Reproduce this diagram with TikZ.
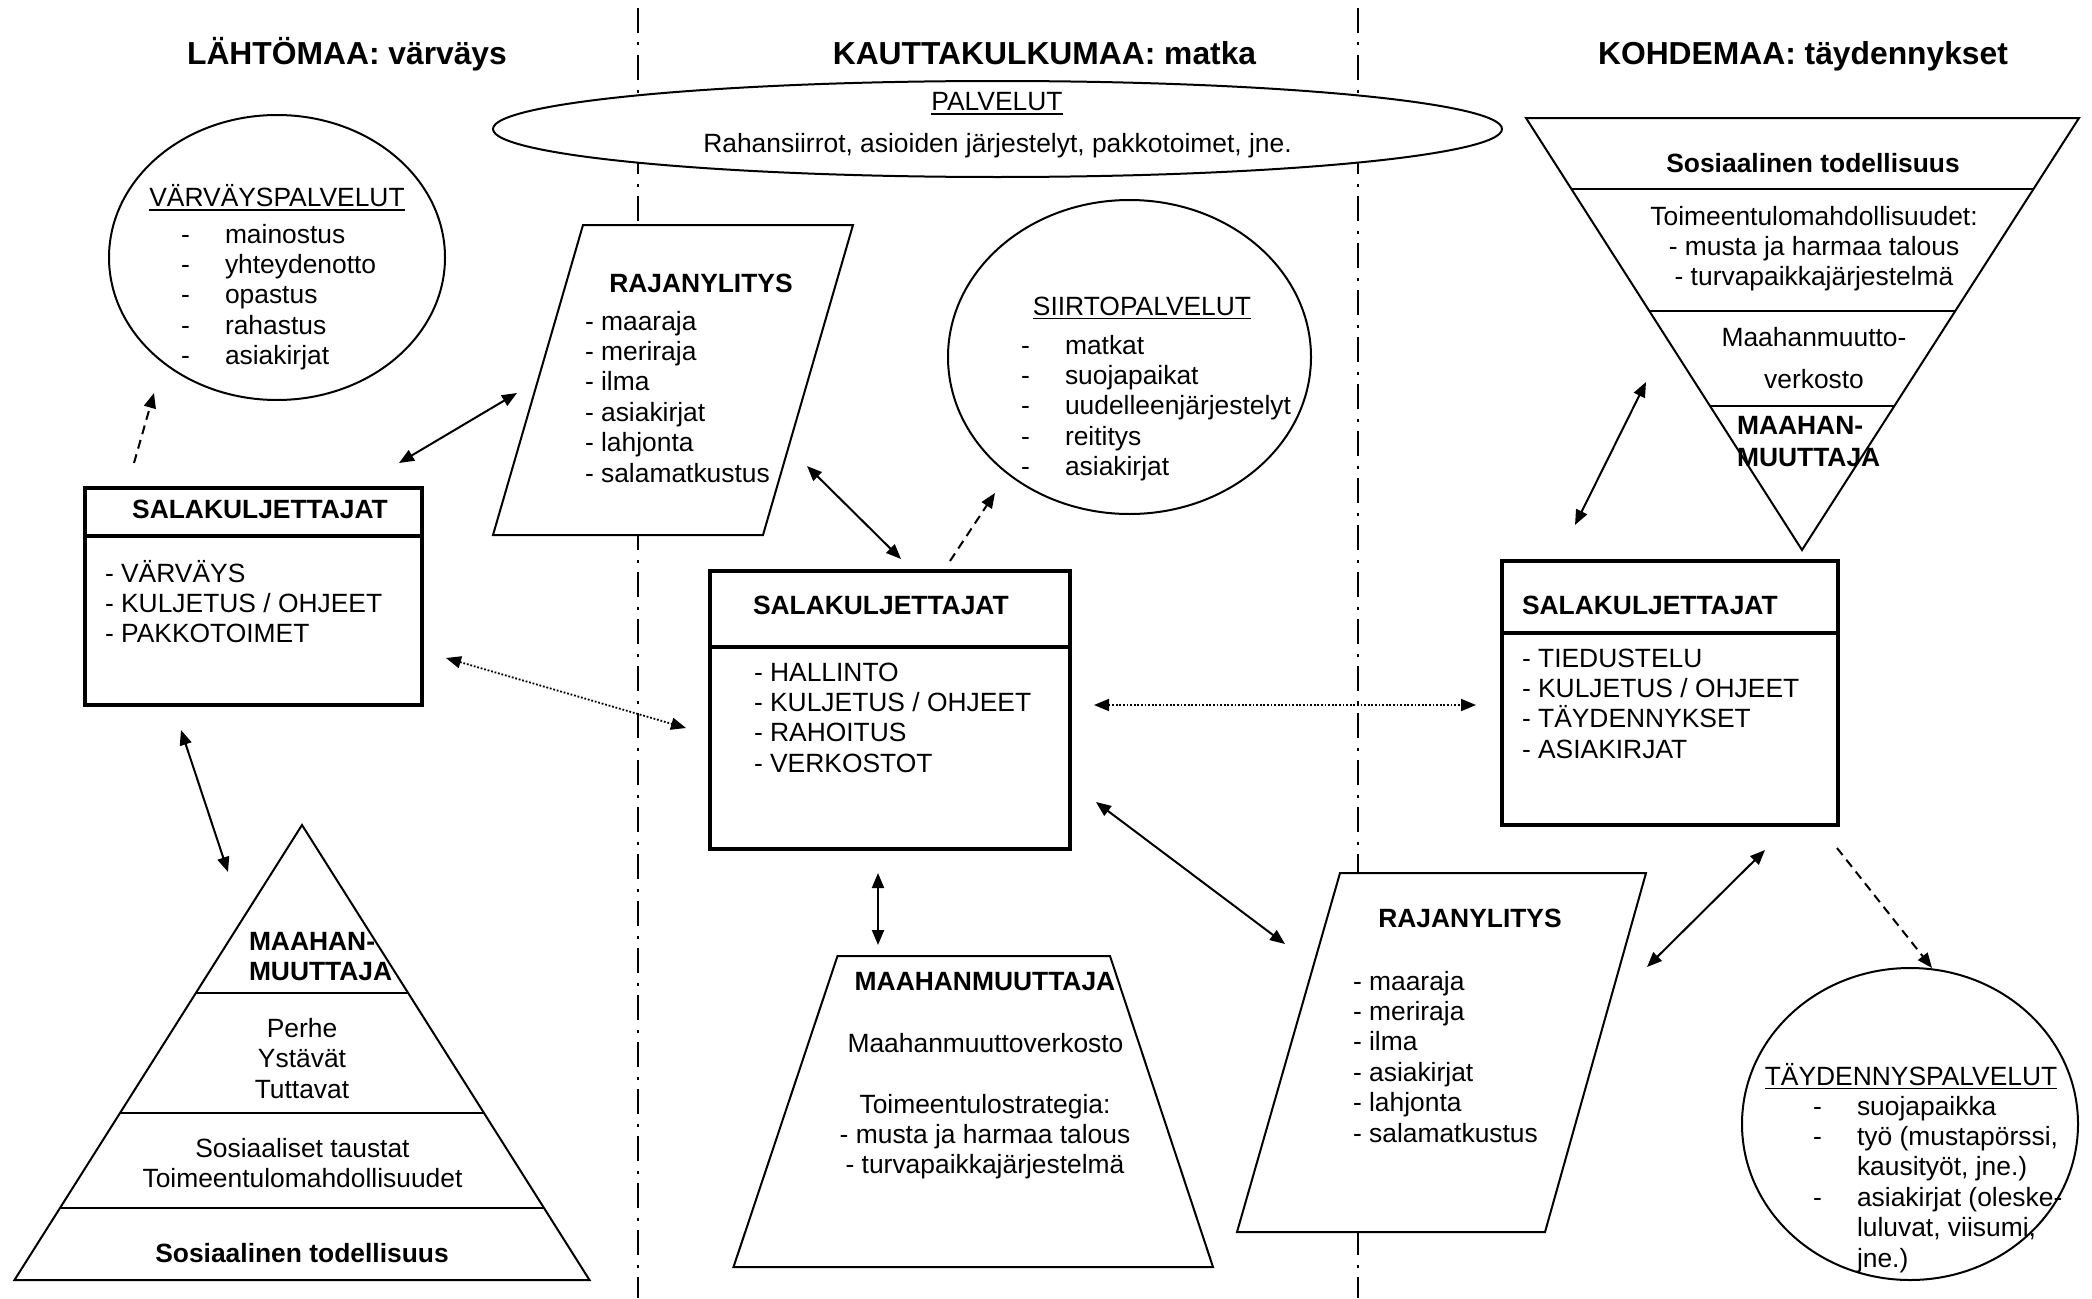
\documentclass[tikz,border=0pt]{standalone}
\usepackage{fontspec}
\setmainfont{Liberation Sans}
\usetikzlibrary{arrows.meta,shapes.geometric}
\begin{document}
\begin{tikzpicture}[x=1pt,y=-1pt,
  every node/.style={inner sep=0pt, outer sep=0pt, font=\fontsize{26.4}{30.4}\selectfont},
  bfn/.style={font=\fontsize{26.4}{30.4}\selectfont\bfseries},
  ttl/.style={font=\fontsize{31.8}{36}\selectfont\bfseries, anchor=base},
  shp/.style={draw, line width=2pt, fill=white},
  tbox/.style={draw, line width=4pt, fill=white, rectangle, anchor=north west},
  ell/.style={shp, ellipse},
  divline/.style={draw, line width=2.6pt, dash pattern=on 25pt off 9.5pt on 3pt off 9.5pt},
  tip/.tip={Triangle[length=15pt,width=12pt]},
  arr/.style={line width=2pt, tip-tip},
  dotarr/.style={line width=1.8pt, dash pattern=on 1.8pt off 1.8pt, tip-tip},
  dsharr/.style={line width=2pt, dash pattern=on 9pt off 6pt, -tip},
  uline/.style={line width=1.8pt},
  lft/.style={anchor=base west},
  ctr/.style={anchor=base}
]
\useasboundingbox (0,0) rectangle (2092,1298);
\fill[white] (0,0) rectangle (2092,1298);

% column dividers
\draw[divline] (638,8) -- (638,1298);
\draw[divline] (1358,8) -- (1358,1298);

% titles
\node[ttl] (t1) at (347,65) {LÄHTÖMAA: värväys};
\node[ttl] (t2) at (1044.5,65) {KAUTTAKULKUMAA: matka};
\node[ttl] (t3) at (1803,65) {KOHDEMAA: täydennykset};

% PALVELUT ellipse
\node[ell, minimum width=1009, minimum height=96] (palv) at (997.5,129) {};
\node[ctr] (palvh) at (997,110.5) {PALVELUT};
\draw[uline] ([yshift=-3.5pt]palvh.base west) -- ([yshift=-3.5pt]palvh.base east);
\node[ctr] (palvt) at (997.5,152) {Rahansiirrot, asioiden järjestelyt, pakkotoimet, jne.};

% VARVAYSPALVELUT circle
\node[ell, minimum width=336, minimum height=285] (varv) at (277,257.5) {};
\node[ctr] (varvh) at (277,206.5) {VÄRVÄYSPALVELUT};
\draw[uline] ([yshift=-3.5pt]varvh.base west) -- ([yshift=-3.5pt]varvh.base east);
\foreach \t [count=\i] in {mainostus,yhteydenotto,opastus,rahastus,asiakirjat} {
  \node[lft] (vd\i) at (181,{243+30.4*(\i-1)}) {-};
  \node[lft] (vt\i) at (225,{243+30.4*(\i-1)}) {\t};
}

% SIIRTOPALVELUT circle
\node[ell, minimum width=363, minimum height=314] (siirto) at (1129.5,357) {};
\node[ctr] (siirh) at (1142,315) {SIIRTOPALVELUT};
\draw[uline] ([yshift=-3.5pt]siirh.base west) -- ([yshift=-3.5pt]siirh.base east);
\foreach \t [count=\i] in {matkat,suojapaikat,uudelleenjärjestelyt,reititys,asiakirjat} {
  \node[lft] (sd\i) at (1021,{354+30.4*(\i-1)}) {-};
  \node[lft] (st\i) at (1065,{354+30.4*(\i-1)}) {\t};
}

% TAYDENNYSPALVELUT circle
\node[ell, minimum width=336, minimum height=312] (tayd) at (1910,1124) {};
\node[ctr] (taydh) at (1911,1085) {TÄYDENNYSPALVELUT};
\draw[uline] ([yshift=-3.5pt]taydh.base west) -- ([yshift=-3.5pt]taydh.base east);
\foreach \t [count=\i] in {suojapaikka,{työ (mustapörssi,},{kausityöt, jne.)},{asiakirjat (oleske-},{luluvat, viisumi,},{jne.)}} {
  \node[lft] (tt\i) at (1857,{1115+30.4*(\i-1)}) {\t};
}
\node[lft] (td1) at (1813,1115) {-};
\node[lft] (td2) at (1813,1145.4) {-};
\node[lft] (td4) at (1813,1206.2) {-};

% upper RAJANYLITYS
\draw[shp] (583,225) -- (853,225) -- (763,535) -- (493,535) -- cycle;
\node[ctr, bfn] (r1h) at (701,292) {RAJANYLITYS};
\foreach \t [count=\i] in {maaraja,meriraja,ilma,asiakirjat,lahjonta,salamatkustus} {
  \node[lft] (r1t\i) at (585,{330+30.4*(\i-1)}) {- \t};
}

% lower RAJANYLITYS
\draw[shp] (1340,873) -- (1646,873) -- (1545,1232) -- (1237,1232) -- cycle;
\node[ctr, bfn] (r2h) at (1470,927) {RAJANYLITYS};
\foreach \t [count=\i] in {maaraja,meriraja,ilma,asiakirjat,lahjonta,salamatkustus} {
  \node[lft] (r2t\i) at (1353,{990+30.4*(\i-1)}) {- \t};
}

% SALAKULJETTAJAT boxes
\node[tbox, minimum width=337, minimum height=217] (sala1) at (85,488) {};
\draw[line width=4pt] (85,536) -- (422,536);
\node[ctr, bfn] (s1h) at (260,518) {SALAKULJETTAJAT};
\foreach \t [count=\i] in {VÄRVÄYS,KULJETUS / OHJEET,PAKKOTOIMET} {
  \node[lft] (s1t\i) at (105,{582+30.4*(\i-1)}) {- \t};
}

\node[tbox, minimum width=360, minimum height=278] (sala2) at (710,571) {};
\draw[line width=4pt] (710,647) -- (1070,647);
\node[lft, bfn] (s2h) at (753,614.5) {SALAKULJETTAJAT};
\foreach \t [count=\i] in {HALLINTO,KULJETUS / OHJEET,RAHOITUS,VERKOSTOT} {
  \node[lft] (s2t\i) at (754,{681+30.4*(\i-1)}) {- \t};
}

\node[tbox, minimum width=336, minimum height=264] (sala3) at (1502,561) {};
\draw[line width=4pt] (1502,633) -- (1838,633);
\node[lft, bfn] (s3h) at (1522,614) {SALAKULJETTAJAT};
\foreach \t [count=\i] in {TIEDUSTELU,KULJETUS / OHJEET,TÄYDENNYKSET,ASIAKIRJAT} {
  \node[lft] (s3t\i) at (1522,{667+30.4*(\i-1)}) {- \t};
}

% pyramid (origin country)
\draw[shp] (302,825) -- (589.5,1280) -- (14.5,1280) -- cycle;
\draw[line width=2pt] (195.8,993) -- (408.2,993);
\draw[line width=2pt] (120,1113) -- (484,1113);
\draw[line width=2pt] (60,1208) -- (544,1208);
\node[lft, bfn] (p1a) at (249,950) {MAAHAN-};
\node[lft, bfn] (p1b) at (249,980) {MUUTTAJA};
\node[ctr] (p2a) at (302,1037.5) {Perhe};
\node[ctr] (p2b) at (302,1067.9) {Ystävät};
\node[ctr] (p2c) at (302,1098.3) {Tuttavat};
\node[ctr] (p3a) at (302.5,1157) {Sosiaaliset taustat};
\node[ctr] (p3b) at (302.5,1187) {Toimeentulomahdollisuudet};
\node[ctr, bfn] (p4) at (302,1262) {Sosiaalinen todellisuus};

% inverted triangle (destination country)
\draw[shp] (1526,118) -- (2079,118) -- (1802,550) -- cycle;
\draw[line width=2pt] (1571.4,189) -- (2033.6,189);
\draw[line width=2pt] (1649.3,311) -- (1955.5,311);
\draw[line width=2pt] (1710,406) -- (1894.7,406);
\node[ctr, bfn] (i1) at (1813,172) {Sosiaalinen todellisuus};
\node[ctr] (i2a) at (1814,225) {Toimeentulomahdollisuudet:};
\node[ctr] (i2b) at (1814,255.4) {- musta ja harmaa talous};
\node[ctr] (i2c) at (1814,285.8) {- turvapaikkajärjestelmä};
\node[ctr] (i3a) at (1814,346) {Maahanmuutto-};
\node[ctr] (i3b) at (1814,388.6) {verkosto};
\node[lft, bfn] (i4a) at (1737,434) {MAAHAN-};
\node[lft, bfn] (i4b) at (1737,466) {MUUTTAJA};

% trapezoid (transit migrant)
\draw[shp] (837.5,956) -- (1110,956) -- (1213,1267) -- (733.5,1267) -- cycle;
\node[ctr, bfn] (m1) at (985,990) {MAAHANMUUTTAJA};
\node[ctr] (m2) at (985.5,1052) {Maahanmuuttoverkosto};
\node[ctr] (m3a) at (985,1113) {Toimeentulostrategia:};
\node[ctr] (m3b) at (985,1143.4) {- musta ja harmaa talous};
\node[ctr] (m3c) at (985,1173.8) {- turvapaikkajärjestelmä};

% connector end points
\coordinate (c1a) at (134,463);  \coordinate (c1b) at (154,393);
\coordinate (c2a) at (399,463);  \coordinate (c2b) at (517,393);
\coordinate (c3a) at (446,658);  \coordinate (c3b) at (686,728);
\coordinate (c4a) at (181,730);  \coordinate (c4b) at (228,872);
\coordinate (c5a) at (807,466);  \coordinate (c5b) at (901,559);
\coordinate (c6a) at (950,561);  \coordinate (c6b) at (995,493);
\coordinate (c7a) at (1094,705); \coordinate (c7b) at (1476,705);
\coordinate (c8a) at (1096,802); \coordinate (c8b) at (1285,944);
\coordinate (c9a) at (878,873);  \coordinate (c9b) at (878,945);
\coordinate (c10a) at (1646,382); \coordinate (c10b) at (1575,525);
\coordinate (c11a) at (1765,850); \coordinate (c11b) at (1647,967);
\coordinate (c12a) at (1837,848); \coordinate (c12b) at (1932,968);

% connectors
\draw[dsharr] (c1a) -- (c1b);
\draw[arr] (c2a) -- (c2b);
\draw[dotarr] (c3a) -- (c3b);
\draw[arr] (c4a) -- (c4b);
\draw[arr] (c5a) -- (c5b);
\draw[dsharr] (c6a) -- (c6b);
\draw[dotarr] (c7a) -- (c7b);
\draw[arr] (c8a) -- (c8b);
\draw[arr] (c9a) -- (c9b);
\draw[arr] (c10a) -- (c10b);
\draw[arr] (c11a) -- (c11b);
\draw[dsharr] (c12a) -- (c12b);
\end{tikzpicture}
\end{document}
